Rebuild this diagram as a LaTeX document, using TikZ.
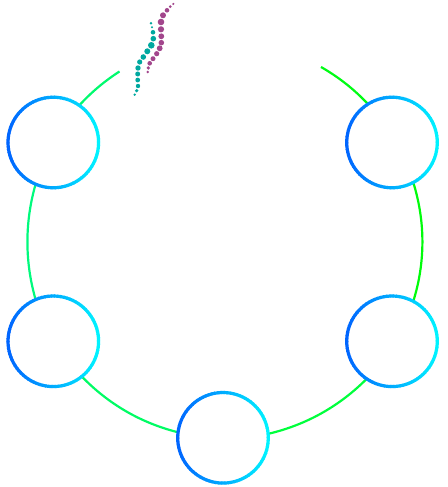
\documentclass[tikz,border=0pt]{standalone}
\usetikzlibrary{calc}
\definecolor{ringL}{HTML}{0066FF}
\definecolor{ringR}{HTML}{00F4FF}
\definecolor{dotP}{HTML}{A2468C}
\definecolor{dotT}{HTML}{00A8A0}
\tikzset{
  hub/.style={circle,fill=white,inner sep=0pt,outer sep=0pt,minimum size=90.6pt},
  link/.style={line width=2.2pt,looseness=0.88},
}
\newcommand{\gradring}[1]{%
  \foreach \a in {0,4,...,356}{%
    \pgfmathtruncatemacro\p{50+50*cos(\a+2)}%
    \draw[line width=3.2pt,color=ringR!\p!ringL] ($(#1)+(\a:45.3pt)$) arc[start angle=\a,delta angle=5,radius=45.3pt];
  }%
}
\begin{document}
\begin{tikzpicture}[x=1pt,y=1pt]
\useasboundingbox (0,0) rectangle (447,487);
\node[hub] (tl) at (53.3,344.5) {};
\node[hub] (tr) at (392,344.5) {};
\node[hub] (br) at (392,145.7) {};
\node[hub] (bl) at (53.3,145.7) {};
\node[hub] (bo) at (223,49.2) {};
\coordinate (tlfree) at (119.5,415.5);
\coordinate (trfree) at (321,420);
\draw[link,color={rgb,255:red,0;green,250;blue,110}] (tlfree) to[bend right=7.3] (tl.55);
\draw[link,color={rgb,255:red,0;green,250;blue,125}] (tl.-113) to[bend right=16] (bl.113);
\draw[link,color={rgb,255:red,0;green,252;blue,100}] (bl.-51) to[bend right=16] (bo.173.5);
\draw[link,color={rgb,255:red,0;green,255;blue,60}] (bo.5.7) to[bend right=16] (br.-124.5);
\draw[link,color={rgb,255:red,0;green,252;blue,10}] (br.62) to[bend right=17.4] (tr.-62);
\draw[link,color={rgb,255:red,0;green,252;blue,20}] (tr.122) to[bend right=8.4] (trfree);
\gradring{tl}\gradring{tr}\gradring{br}\gradring{bl}\gradring{bo}
\foreach \x/\y/\r in {173.3/4/1.2,170.3/6.7/1.5,167/10.3/2.3,163/15.3/3,161/22/3.3,161/29.3/3.1,161.3/36.3/2.9,161.3/42.7/2.8,159.7/48.3/2.9,156.7/53.7/2.6,153/58.7/2.5,149.7/63.3/2.3,148.3/68/1.8,147.7/72/1.4}
  \fill[dotP] (\x,487-\y) circle[radius=\r];
\foreach \x/\y/\r in {151/23.3/1.3,152/27.3/1.1,153/32.3/2.3,153.3/38.7/2.8,151.3/45.3/3.3,147.3/51.3/3,143.3/57/2.8,139.7/62/2.6,138/68/2.7,137.7/74/2.5,137.7/80/2.4,138/86/2.2,136.7/90.7/1.8,134.7/94.7/1.3}
  \fill[dotT] (\x,487-\y) circle[radius=\r];
\end{tikzpicture}
\end{document}
